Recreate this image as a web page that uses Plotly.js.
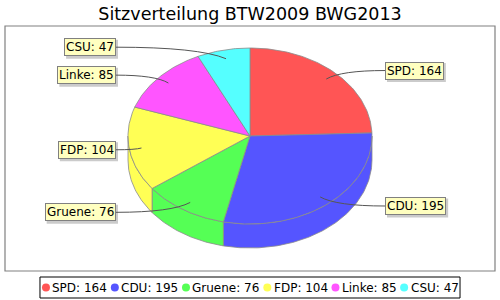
<!DOCTYPE html>
<html>
<head>
<meta charset="utf-8">
<script src="https://cdn.plot.ly/plotly-3.0.1.min.js"></script>
<style>html,body{margin:0;padding:0;background:#fff;}#chart{width:500px;height:300px;}</style>
</head>
<body>
<div id="chart"></div>
<script>
// ---- data ----
const categories = ['SPD', 'CDU', 'Gruene', 'FDP', 'Linke', 'CSU'];
const seats = [164, 195, 76, 104, 85, 47];
const chartTitle = 'Sitzverteilung BTW2009 BWG2013';

// ---- styles / geometry ----
const colors = ['#FF5555', '#5555FF', '#55FF55', '#FFFF55', '#FF55FF', '#55FFFF'];
const FONT = "'DejaVu Sans', Verdana, sans-serif";
const CX = 250, CY = 136, RX = 122, RY = 88, DEPTH = 24;
const OUTLINE = '#8a8a8a';

const total = seats.reduce((a, b) => a + b, 0);
const itemText = categories.map((c, i) => c + ': ' + seats[i]);

function pt(deg, f, dy) {
  const r = deg * Math.PI / 180;
  return [CX + RX * f * Math.cos(r), CY - RY * f * Math.sin(r) + (dy || 0)];
}
function arc(a, b, f, dy) {
  const n = Math.max(2, Math.ceil(Math.abs(b - a) / 1.0));
  const out = [];
  for (let i = 0; i <= n; i++) out.push(pt(a + (b - a) * i / n, f, dy));
  return out;
}

// slice angles (start at 12 o'clock, clockwise)
let cum = 0;
const slices = seats.map((v, i) => {
  const a0 = 90 - cum / total * 360;
  cum += v;
  const a1 = 90 - cum / total * 360;
  return {a0, a1, mid: (a0 + a1) / 2, i};
});

const traces = [];
// sides (front half: angles in [-180, 0])
slices.forEach(s => {
  const hi = Math.min(s.a0, 0), lo = Math.max(s.a1, -180);
  if (hi <= lo) return;
  const top = arc(hi, lo, 1, 0);
  const bot = arc(lo, hi, 1, DEPTH);
  const pts = top.concat(bot);
  pts.push(top[0]);
  traces.push({
    type: 'scatter', mode: 'lines', fill: 'toself', fillcolor: colors[s.i],
    x: pts.map(p => p[0]), y: pts.map(p => p[1]),
    line: {color: OUTLINE, width: 0.8}, hoverinfo: 'skip', showlegend: false
  });
});
// top faces
slices.forEach(s => {
  const pts = [[CX, CY]].concat(arc(s.a0, s.a1, 1, 0));
  pts.push([CX, CY]);
  traces.push({
    type: 'scatter', mode: 'lines', fill: 'toself', fillcolor: colors[s.i],
    x: pts.map(p => p[0]), y: pts.map(p => p[1]),
    line: {color: OUTLINE, width: 0.8}, hoverinfo: 'skip', showlegend: false
  });
});

// ---- legend (manual, measured) ----
const ctx = document.createElement('canvas').getContext('2d');
ctx.font = "12px " + FONT;
const widths = itemText.map(t => ctx.measureText(t).width);
const legendW = widths.reduce((a, w) => a + w + 14, 0);
const legBoxLeft = 250 - legendW / 2;
const legY = 287.5;
const legX = [], legTextX = [];
let cxLeg = legBoxLeft + 6;
widths.forEach((w, i) => { legX.push(cxLeg); legTextX.push(cxLeg + 6.5); cxLeg += w + 14; });
traces.push({
  type: 'scatter', mode: 'markers', x: legX, y: legX.map(() => legY),
  marker: {symbol: 'circle', size: 8, color: colors}, hoverinfo: 'skip', showlegend: false
});

const annotations = [];
const shapes = [
  {type: 'rect', xref: 'x', yref: 'y', x0: 5, y0: 26, x1: 495, y1: 271,
   line: {color: '#808080', width: 1.2}, layer: 'below'},
  {type: 'rect', xref: 'x', yref: 'y', x0: legBoxLeft, y0: 277, x1: legBoxLeft + legendW, y1: 298,
   line: {color: '#000', width: 1}, layer: 'below'}
];
itemText.forEach((t, i) => {
  annotations.push({x: legTextX[i], y: legY, xref: 'x', yref: 'y', text: t, showarrow: false,
    xanchor: 'left', yanchor: 'middle', font: {family: FONT, size: 12, color: '#000'}, borderpad: 0, borderwidth: 0});
});

// ---- slice labels ----
slices.forEach(s => {
  const r = s.mid * Math.PI / 180;
  const right = Math.cos(r) > 0;
  const ly = CY - (RY + 3) * Math.sin(r);
  const lxEdge = right ? 385 : 116;
  const a = pt(s.mid, 0.9, 0);
  const cxp = lxEdge + 0.75 * (a[0] - lxEdge);
  const bw = widths[s.i] + 4;
  const bx0 = right ? lxEdge : lxEdge - bw;
  // label shadow
  shapes.push({type: 'rect', xref: 'x', yref: 'y', x0: bx0 + 2, x1: bx0 + bw + 2,
    y0: ly - 9.5 + 2, y1: ly + 9.5 + 2, fillcolor: '#cbcbcb', line: {width: 0}, layer: 'below'});
  // leader line
  shapes.push({type: 'path', xref: 'x', yref: 'y',
    path: `M ${lxEdge},${ly} Q ${cxp},${ly} ${a[0]},${a[1]}`,
    line: {color: '#555', width: 1}, layer: 'above'});
  annotations.push({x: lxEdge, y: ly, xref: 'x', yref: 'y', text: itemText[s.i], showarrow: false,
    xanchor: right ? 'left' : 'right', yanchor: 'middle', borderpad: 1, borderwidth: 1,
    font: {family: FONT, size: 12, color: '#000'}, bgcolor: '#FFFFC0', bordercolor: '#808080'});
});

const layout = {
  width: 500, height: 300,
  margin: {l: 0, r: 0, t: 0, b: 0},
  paper_bgcolor: '#fff', plot_bgcolor: '#fff',
  title: {text: chartTitle, font: {family: FONT, size: 17.5, color: '#000'},
          x: 0.5, xanchor: 'center', xref: 'paper', y: 1 - 14 / 300, yanchor: 'middle', yref: 'container'},
  xaxis: {range: [0, 500], visible: false, fixedrange: true},
  yaxis: {range: [300, 0], visible: false, fixedrange: true},
  showlegend: false,
  shapes: shapes,
  annotations: annotations
};

Plotly.newPlot('chart', traces, layout, {staticPlot: true, displayModeBar: false});
</script>
</body>
</html>
